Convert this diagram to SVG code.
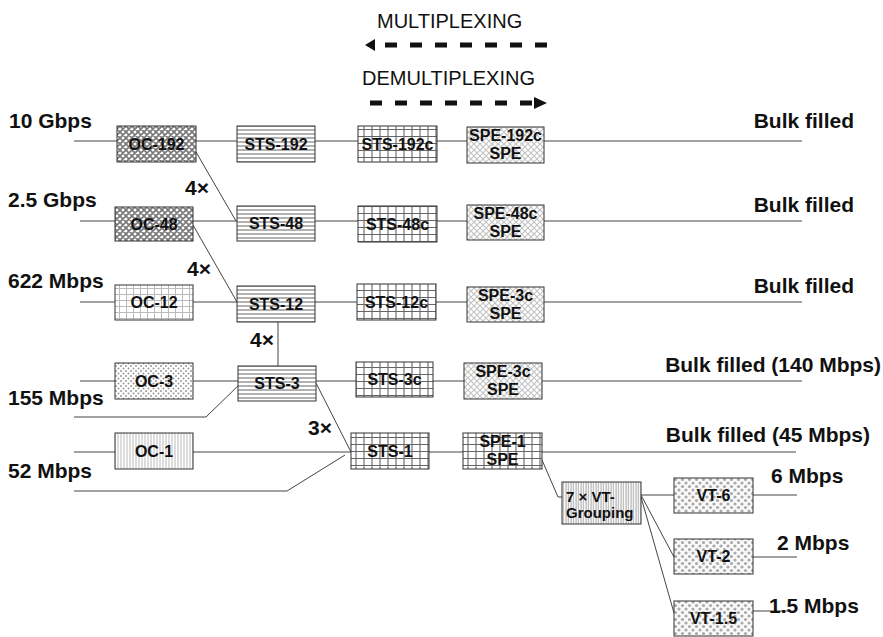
<svg xmlns="http://www.w3.org/2000/svg" width="883" height="637" viewBox="0 0 883 637">
<defs>
<style>
.lbl{font-family:"Liberation Sans",Arial,sans-serif;font-weight:bold;font-size:21px;fill:#111}
.ttl{font-family:"Liberation Sans",Arial,sans-serif;font-size:20px;fill:#111}
.bx{font-family:"Liberation Sans",Arial,sans-serif;font-weight:bold;font-size:16px;fill:#111;text-anchor:middle}
.box{stroke:#333;stroke-width:1}
.con{stroke:#444;stroke-width:1;fill:none}
.dash{stroke:#111;stroke-width:5;stroke-dasharray:12 13;fill:none}
</style>
<pattern id="pOCd" patternUnits="userSpaceOnUse" width="6" height="6">
<rect width="6" height="6" fill="#fff"/>
<path d="M0,0L6,6M6,0L0,6M-1,5L1,7M5,-1L7,1M-1,1L1,-1M5,7L7,5" stroke="#777" stroke-width="1.6"/>
</pattern>
<pattern id="pGridL" patternUnits="userSpaceOnUse" width="7" height="6">
<rect width="7" height="6" fill="#fff"/>
<path d="M0.5,0V6M0,0.5H7" stroke="#bbb" stroke-width="1"/>
</pattern>
<pattern id="pDotsL" patternUnits="userSpaceOnUse" width="5" height="5">
<rect width="5" height="5" fill="#fff"/>
<circle cx="1" cy="1" r="1" fill="#999"/>
<circle cx="3.5" cy="3.5" r="1" fill="#999"/>
</pattern>
<pattern id="pVL" patternUnits="userSpaceOnUse" width="3" height="3">
<rect width="3" height="3" fill="#fff"/>
<path d="M1,0V3" stroke="#bbb" stroke-width="1"/>
</pattern>
<pattern id="pHL" patternUnits="userSpaceOnUse" width="4" height="4">
<rect width="4" height="4" fill="#fff"/>
<path d="M0,2H4" stroke="#888" stroke-width="1.3"/>
</pattern>
<pattern id="pGridD" patternUnits="userSpaceOnUse" width="8" height="7">
<rect width="8" height="7" fill="#fff"/>
<path d="M4,0V7M0,3.5H8" stroke="#666" stroke-width="1.1"/>
</pattern>
<pattern id="pXL" patternUnits="userSpaceOnUse" width="6" height="6">
<rect width="6" height="6" fill="#fff"/>
<path d="M0,0L6,6M6,0L0,6" stroke="#c4c4c4" stroke-width="1.2"/>
</pattern>
<pattern id="pVLf" patternUnits="userSpaceOnUse" width="2.5" height="3">
<rect width="2.5" height="3" fill="#fff"/>
<path d="M1,0V3" stroke="#999" stroke-width="0.9"/>
</pattern>
<pattern id="pVT" patternUnits="userSpaceOnUse" width="7" height="7">
<rect width="7" height="7" fill="#fafafa"/>
<circle cx="0" cy="0" r="1.6" fill="#aaa"/>
<circle cx="7" cy="0" r="1.6" fill="#aaa"/>
<circle cx="0" cy="7" r="1.6" fill="#aaa"/>
<circle cx="7" cy="7" r="1.6" fill="#aaa"/>
<circle cx="3.5" cy="3.5" r="1.6" fill="#aaa"/>
</pattern>
</defs>
<rect width="883" height="637" fill="#fff"/>

<g id="legend">
<text class="ttl" x="377" y="28">MULTIPLEXING</text>
<line class="dash" x1="547" y1="45" x2="372" y2="45"/>
<polygon points="365,45 375,39 375,51" fill="#111"/>
<text class="ttl" x="362" y="85">DEMULTIPLEXING</text>
<line class="dash" x1="370" y1="103" x2="536" y2="103"/>
<polygon points="547,103 534,97 534,109" fill="#111"/>
</g>

<g id="connectors">
<line class="con" x1="74" y1="141" x2="802" y2="141"/>
<line class="con" x1="80" y1="221" x2="802" y2="221"/>
<line class="con" x1="80" y1="302" x2="802" y2="302"/>
<line class="con" x1="80" y1="381" x2="802" y2="381"/>
<line class="con" x1="74" y1="452" x2="796" y2="452"/>
<polyline class="con" points="196,152 236,221"/>
<polyline class="con" points="193,225 237,302"/>
<line class="con" x1="278" y1="322" x2="278" y2="366"/>
<polyline class="con" points="74,417 206,417 242,382"/>
<polyline class="con" points="316,383 351,452"/>
<polyline class="con" points="74,491 287,491 345,455"/>
<polyline class="con" points="542,460 558,497 562,497"/>
<line class="con" x1="641" y1="495" x2="674" y2="495"/>
<line class="con" x1="641" y1="495" x2="674" y2="557"/>
<line class="con" x1="641" y1="497" x2="674" y2="613"/>
<line class="con" x1="753" y1="495" x2="797" y2="495"/>
<line class="con" x1="753" y1="557" x2="797" y2="557"/>
<line class="con" x1="753" y1="611" x2="790" y2="611"/>
</g>

<g id="oc192"><rect class="box" x="117" y="126" width="79" height="36" fill="url(#pOCd)"/><text class="bx" x="156.5" y="150">OC-192</text></g>
<g id="sts192"><rect class="box" x="237" y="126" width="78" height="36" fill="url(#pHL)"/><text class="bx" x="276" y="150">STS-192</text></g>
<g id="sts192c"><rect class="box" x="358" y="126" width="79" height="36" fill="url(#pGridD)" stroke-width="1.5"/><text class="bx" x="397.5" y="150">STS-192c</text></g>
<g id="spe192c"><rect class="box" x="467" y="127" width="77" height="36" fill="url(#pXL)"/><text class="bx" x="505.5" y="141">SPE-192c</text><text class="bx" x="505.5" y="159">SPE</text></g>

<g id="oc48"><rect class="box" x="115" y="207" width="78" height="34" fill="url(#pOCd)"/><text class="bx" x="154" y="230">OC-48</text></g>
<g id="sts48"><rect class="box" x="237" y="206" width="78" height="35" fill="url(#pHL)"/><text class="bx" x="276" y="229">STS-48</text></g>
<g id="sts48c"><rect class="box" x="358" y="206" width="79" height="36" fill="url(#pGridD)"/><text class="bx" x="397.5" y="230">STS-48c</text></g>
<g id="spe48c"><rect class="box" x="467" y="205" width="77" height="35" fill="url(#pXL)"/><text class="bx" x="505.5" y="219">SPE-48c</text><text class="bx" x="505.5" y="237">SPE</text></g>

<g id="oc12"><rect class="box" x="115" y="285" width="78" height="35" fill="url(#pGridL)"/><text class="bx" x="154" y="308">OC-12</text></g>
<g id="sts12"><rect class="box" x="237" y="286" width="78" height="36" fill="url(#pHL)"/><text class="bx" x="276" y="310">STS-12</text></g>
<g id="sts12c"><rect class="box" x="357" y="284" width="79" height="36" fill="url(#pGridD)"/><text class="bx" x="396.5" y="308">STS-12c</text></g>
<g id="spe3c-a"><rect class="box" x="467" y="287" width="77" height="35" fill="url(#pXL)"/><text class="bx" x="505.5" y="301">SPE-3c</text><text class="bx" x="505.5" y="319">SPE</text></g>

<g id="oc3"><rect class="box" x="115" y="363" width="78" height="36" fill="url(#pDotsL)"/><text class="bx" x="154" y="387">OC-3</text></g>
<g id="sts3"><rect class="box" x="238" y="366" width="78" height="35" fill="url(#pHL)"/><text class="bx" x="277" y="389">STS-3</text></g>
<g id="sts3c"><rect class="box" x="356" y="362" width="77" height="35" fill="url(#pGridD)"/><text class="bx" x="394.5" y="385">STS-3c</text></g>
<g id="spe3c-b"><rect class="box" x="464" y="363" width="78" height="36" fill="url(#pXL)"/><text class="bx" x="503" y="377">SPE-3c</text><text class="bx" x="503" y="395">SPE</text></g>

<g id="oc1"><rect class="box" x="115" y="433" width="78" height="36" fill="url(#pVL)"/><text class="bx" x="154" y="457">OC-1</text></g>
<g id="sts1"><rect class="box" x="351" y="433" width="78" height="36" fill="url(#pGridD)"/><text class="bx" x="390" y="457">STS-1</text></g>
<g id="spe1"><rect class="box" x="463" y="433" width="79" height="36" fill="url(#pGridD)"/><text class="bx" x="502.5" y="447">SPE-1</text><text class="bx" x="502.5" y="465">SPE</text></g>

<g id="vtgroup"><rect class="box" x="562" y="482" width="79" height="42" fill="url(#pVLf)"/><text class="bx" x="566" y="502" style="text-anchor:start;font-size:15px">7 × VT-</text><text class="bx" x="566" y="518" style="text-anchor:start;font-size:15px">Grouping</text></g>
<g id="vt6"><rect class="box" x="674" y="478" width="79" height="35" fill="url(#pVT)"/><text class="bx" x="713.5" y="501">VT-6</text></g>
<g id="vt2"><rect class="box" x="674" y="539" width="79" height="35" fill="url(#pVT)"/><text class="bx" x="713.5" y="562">VT-2</text></g>
<g id="vt15"><rect class="box" x="674" y="601" width="79" height="35" fill="url(#pVT)"/><text class="bx" x="713.5" y="624">VT-1.5</text></g>

<g id="labels">
<text class="lbl" x="9" y="128">10 Gbps</text>
<text class="lbl" x="8" y="207">2.5 Gbps</text>
<text class="lbl" x="8" y="288">622 Mbps</text>
<text class="lbl" x="8" y="405">155 Mbps</text>
<text class="lbl" x="8" y="478">52 Mbps</text>
<text class="lbl" x="185" y="195">4×</text>
<text class="lbl" x="187" y="276">4×</text>
<text class="lbl" x="250" y="347">4×</text>
<text class="lbl" x="308" y="435">3×</text>
<text class="lbl" x="854" y="128" text-anchor="end">Bulk filled</text>
<text class="lbl" x="854" y="212" text-anchor="end">Bulk filled</text>
<text class="lbl" x="854" y="293" text-anchor="end">Bulk filled</text>
<text class="lbl" x="881" y="372" text-anchor="end">Bulk filled (140 Mbps)</text>
<text class="lbl" x="870" y="442" text-anchor="end">Bulk filled (45 Mbps)</text>
<text class="lbl" x="771" y="483">6 Mbps</text>
<text class="lbl" x="777" y="550">2 Mbps</text>
<text class="lbl" x="769" y="613">1.5 Mbps</text>
</g>
</svg>
